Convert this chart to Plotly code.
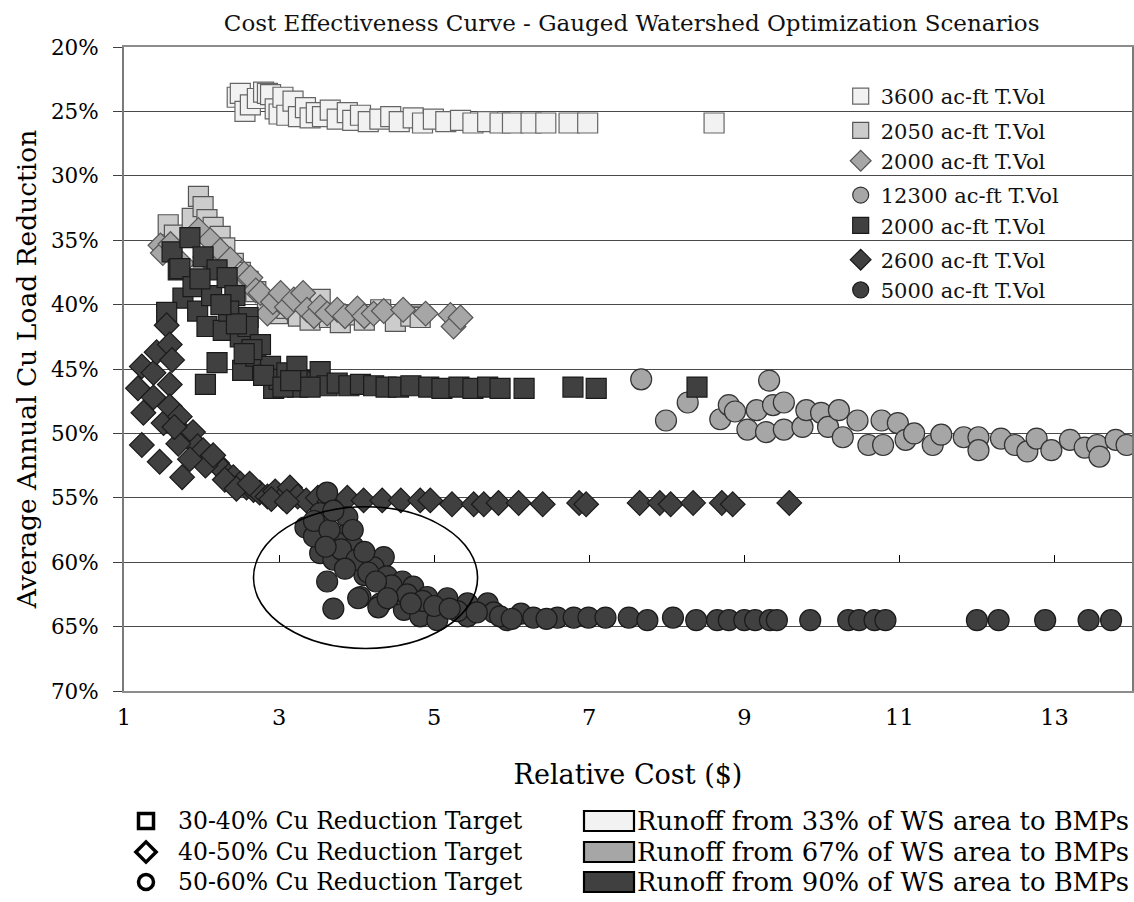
import plotly.graph_objects as go

# ---------------- data ----------------
# 33% of WS area -> 3600 ac-ft T.Vol (squares, 30-40% target)
a_x = [2.46, 2.50, 2.56, 2.63, 2.72, 2.80, 2.85, 2.89, 2.95, 3.00, 3.05, 3.10, 3.18, 3.25, 3.34, 3.40,
       3.48, 3.56, 3.66, 3.75, 3.88, 3.95, 4.05, 4.15, 4.30, 4.44, 4.55, 4.73, 4.85, 4.99, 5.15, 5.34,
       5.50, 5.69, 5.85, 6.01, 6.25, 6.44, 6.74, 6.98, 8.61]
a_y = [23.9, 23.6, 25.0, 24.5, 24.0, 23.5, 23.6, 23.7, 24.8, 25.2, 23.9, 25.3, 24.2, 25.4, 24.7, 25.5,
       25.1, 25.4, 24.9, 25.6, 25.1, 25.7, 25.3, 25.8, 25.6, 25.4, 25.8, 25.5, 25.9, 25.6, 25.8, 25.7,
       25.9, 25.8, 25.9, 25.9, 25.9, 25.9, 25.9, 25.9, 25.9]

# 67% of WS area -> 2050 ac-ft T.Vol (squares)
b_x = [1.57, 1.65, 1.88, 1.96, 2.02, 2.07, 2.15, 2.24, 2.30, 2.41, 2.50, 2.60, 2.70, 2.85, 2.98, 3.10,
       3.25, 3.40, 3.53, 3.65, 3.79, 3.95, 4.10, 4.31, 4.50, 4.70, 4.82]
b_y = [33.8, 34.6, 33.3, 31.6, 32.4, 33.4, 34.0, 34.7, 35.6, 36.8, 37.5, 38.2, 39.0, 39.8, 40.7, 40.3,
       40.9, 41.2, 39.6, 41.0, 41.4, 40.8, 41.2, 40.4, 41.3, 40.9, 41.0]

# 67% of WS area -> 2000 ac-ft T.Vol (diamonds)
c_x = [1.47, 1.50, 1.60, 1.75, 1.96, 2.05, 2.11, 2.20, 2.24, 2.30, 2.37, 2.45, 2.55, 2.63, 2.70, 2.76,
       2.85, 2.92, 3.02, 3.10, 3.19, 3.31, 3.36, 3.45, 3.53, 3.62, 3.75, 3.85, 4.01, 4.10, 4.22, 4.35,
       4.60, 4.89, 5.21, 5.25, 5.34]
c_y = [35.4, 36.0, 35.3, 36.8, 34.2, 36.3, 35.0, 37.0, 35.8, 37.5, 36.5, 38.2, 37.6, 37.9, 38.9, 39.1,
       40.7, 39.8, 39.1, 40.2, 39.6, 39.1, 40.4, 40.9, 40.2, 40.7, 40.4, 40.9, 40.3, 40.9, 40.7, 40.5,
       40.4, 40.7, 40.8, 41.7, 41.0]

# 67% of WS area -> 12300 ac-ft T.Vol (circles)
d_x = [7.67, 7.99, 8.27, 9.32, 8.69, 8.80, 8.88, 9.04, 9.16, 9.28, 9.37, 9.51, 9.51, 9.75, 9.80, 9.99,
       10.08, 10.22, 10.27, 10.46, 10.60, 10.77, 10.79, 10.98, 11.08, 11.19, 11.43, 11.54, 11.83, 12.02,
       12.02, 12.31, 12.49, 12.65, 12.77, 12.96, 13.20, 13.39, 13.55, 13.58, 13.79, 13.93]
d_y = [45.8, 49.0, 47.6, 45.9, 48.9, 47.8, 48.3, 49.7, 48.2, 49.9, 47.8, 47.6, 49.7, 49.5, 48.2, 48.4,
       49.5, 48.2, 50.3, 49.0, 50.9, 49.0, 50.9, 49.2, 50.5, 50.0, 50.9, 50.1, 50.3, 50.3,
       51.3, 50.4, 50.9, 51.4, 50.4, 51.3, 50.5, 51.1, 50.9, 51.8, 50.5, 50.9]

# 90% of WS area -> 2000 ac-ft T.Vol (squares)
e_x = [1.62, 1.70, 1.72, 1.76, 1.85, 1.89, 1.95, 2.02, 2.07, 2.13, 2.20, 2.20, 2.28, 2.33, 2.43, 2.50,
       2.53, 2.60, 2.60, 2.70, 2.76, 2.85, 2.89, 2.93, 3.00, 3.10, 3.23, 3.24, 3.35, 3.49, 3.53, 3.62,
       3.75, 3.90, 4.05, 4.22, 4.38, 4.54, 4.70, 4.93, 5.10, 5.32, 5.50, 5.69, 5.85, 6.16, 6.79, 7.09,
       8.39, 2.05, 1.55, 2.35, 2.45, 2.65, 2.80, 3.05, 3.40, 3.15, 2.55, 2.25, 1.98]
e_y = [35.9, 37.3, 37.2, 39.5, 34.8, 38.6, 40.5, 36.3, 41.7, 39.3, 37.3, 44.5, 42.0, 37.9, 39.3, 42.5,
       45.1, 41.0, 41.7, 44.0, 43.1, 45.5, 44.8, 46.5, 45.8, 45.3, 44.8, 46.4, 45.9, 46.0, 45.2, 46.3,
       46.1, 46.3, 46.2, 46.3, 46.4, 46.4, 46.3, 46.4, 46.5, 46.4, 46.5, 46.4, 46.5, 46.5, 46.4, 46.5,
       46.4, 46.2, 40.6, 40.5, 41.5, 43.5, 45.5, 46.4, 46.4, 45.9, 43.8, 40.0, 38.0]

# 90% of WS area -> 2600 ac-ft T.Vol (diamonds)
f_x = [1.18, 1.23, 1.25, 1.23, 1.38, 1.38, 1.42, 1.46, 1.51, 1.55, 1.59, 1.59, 1.59, 1.62, 1.72, 1.75,
       1.80, 1.89, 1.95, 2.02, 2.10, 2.20, 2.28, 2.35, 2.41, 2.50, 2.58, 2.67, 2.75, 2.85, 2.95, 3.05,
       3.14, 3.24, 3.35, 3.50, 3.65, 3.88, 4.09, 4.33, 4.57, 4.82, 4.95, 5.23, 5.51, 5.64, 5.83, 6.09,
       6.40, 6.87, 6.96, 7.65, 7.91, 8.05, 8.34, 8.71, 8.85, 9.58,
       2.05, 2.15, 2.30, 2.45, 2.62, 2.90, 3.10, 1.85, 1.70, 1.65]
f_y = [46.5, 44.8, 48.4, 50.9, 45.3, 47.2, 43.7, 52.2, 49.2, 41.6, 43.1, 46.2, 47.9, 44.3, 48.7, 53.4,
       50.2, 49.9, 51.0, 51.3, 52.0, 52.3, 52.9, 53.3, 53.4, 53.9, 54.2, 54.4, 54.6, 54.9, 54.5, 55.0,
       54.2, 54.9, 55.2, 55.0, 55.3, 55.0, 55.2, 55.2, 55.2, 55.2, 55.2, 55.5, 55.5, 55.5, 55.4, 55.4,
       55.5, 55.4, 55.5, 55.4, 55.4, 55.5, 55.4, 55.4, 55.5, 55.4,
       52.5, 51.7, 53.6, 54.3, 53.9, 55.1, 55.3, 52.0, 50.8, 49.5]

# 90% of WS area -> 5000 ac-ft T.Vol (circles)
g_x = [3.62, 3.34, 3.53, 3.57, 3.88, 3.86, 3.53, 3.75, 3.96, 3.70, 3.92, 4.35, 4.22, 3.62, 4.39, 4.59,
       4.05, 3.70, 4.31, 4.73, 4.91, 4.61, 4.82, 5.17, 5.43, 5.43, 5.69, 5.77, 6.12, 6.28, 6.59, 6.80,
       6.99, 7.21, 7.51, 7.75, 8.08, 8.38, 8.65, 8.80, 9.00, 9.14, 9.33, 9.42, 9.85, 10.34, 10.48, 10.68,
       10.82, 12.00, 12.28, 12.88, 13.44, 13.73, 4.10, 4.50, 5.04, 5.30, 5.94, 3.45, 4.02, 4.28,
       3.45, 3.65, 3.80, 4.00, 4.15, 4.45, 4.65, 4.85, 5.00, 5.20, 5.55, 5.85, 6.00, 6.45, 3.95, 4.25,
       3.70, 3.85, 4.10, 3.60, 4.40, 4.70]
g_y = [54.6, 57.3, 56.2, 57.8, 56.5, 57.9, 59.3, 58.5, 58.8, 59.8, 60.1, 59.6, 60.4, 61.5, 61.1, 61.5,
       62.7, 63.6, 63.2, 61.9, 62.7, 63.7, 64.2, 62.8, 63.2, 64.2, 63.2, 63.9, 64.0, 64.3, 64.3, 64.3,
       64.3, 64.3, 64.3, 64.5, 64.3, 64.5, 64.5, 64.5, 64.5, 64.5, 64.5, 64.5, 64.5, 64.5, 64.5, 64.5,
       64.5, 64.5, 64.5, 64.5, 64.5, 64.5, 61.0, 62.5, 64.5, 63.8, 64.5, 58.0, 62.8, 63.5,
       56.8, 57.5, 59.0, 59.8, 60.8, 61.8, 62.5, 63.0, 63.4, 63.6, 63.9, 64.2, 64.4, 64.4, 57.5, 61.5,
       56.0, 60.5, 59.2, 58.8, 62.8, 63.2]

series_names = ["3600 ac-ft T.Vol", "2050 ac-ft T.Vol", "2000 ac-ft T.Vol", "12300 ac-ft T.Vol",
                "2000 ac-ft T.Vol", "2600 ac-ft T.Vol", "5000 ac-ft T.Vol"]

x_ticks = [1, 3, 5, 7, 9, 11, 13]
y_ticks = [20, 25, 30, 35, 40, 45, 50, 55, 60, 65, 70]
y_tick_labels = [f"{v}%" for v in y_ticks]

target_labels = ["30-40% Cu Reduction Target", "40-50% Cu Reduction Target", "50-60% Cu Reduction Target"]
target_symbols = ["square", "diamond", "circle"]
runoff_labels = ["Runoff from 33% of WS area to BMPs", "Runoff from 67% of WS area to BMPs",
                 "Runoff from 90% of WS area to BMPs"]

# ---------------- styling / layout constants ----------------
FONT = "DejaVu Serif"
LIGHT, MIDL, MID, DARK = "#f2f2f2", "#cccccc", "#a6a6a6", "#404040"
runoff_colors = [LIGHT, MID, DARK]

W, H = 1134, 902
ML, MR, MT, MB = 124, 2, 47, 211
PW, PH = W - ML - MR, H - MT - MB


def px_x(px):  # page pixel -> paper x
    return (px - ML) / PW


def px_y(py):  # page pixel -> paper y
    return (H - MB - py) / PH


styles = [
    dict(symbol="square", color=LIGHT, line="#666666", group="g1"),
    dict(symbol="square", color=MIDL, line="#555555", group="g2"),
    dict(symbol="diamond", color=MID, line="#555555", group="g2"),
    dict(symbol="circle", color=MID, line="#333333", group="g3"),
    dict(symbol="square", color=DARK, line="#1a1a1a", group="g3"),
    dict(symbol="diamond", color=DARK, line="#1a1a1a", group="g4"),
    dict(symbol="circle", color=DARK, line="#1a1a1a", group="g4"),
]
sizes = [20, 20, 19, 21, 20, 19, 21]
data = [(a_x, a_y), (b_x, b_y), (c_x, c_y), (d_x, d_y), (e_x, e_y), (f_x, f_y), (g_x, g_y)]

fig = go.Figure()
for (xs, ys), name, st, sz in zip(data, series_names, styles, sizes):
    fig.add_trace(go.Scatter(
        x=xs, y=ys, mode="markers", name=name, legendgroup=st["group"],
        marker=dict(symbol=st["symbol"], size=sz, color=st["color"],
                    line=dict(color=st["line"], width=1.2)),
        hoverinfo="x+y",
    ))

# tick marks of the horizontal axis that crosses at 60 %
fig.add_trace(go.Scatter(x=[None], y=[None], xaxis="x2", showlegend=False, hoverinfo="skip"))

# ellipse highlighting the 5000 ac-ft transition
ELLIPSE = dict(x0=2.67, x1=5.56, y0=55.7, y1=66.7)
fig.add_shape(type="circle", xref="x", yref="y", **ELLIPSE,
              line=dict(color="black", width=1.6), layer="above")

# ---- key below the chart ----
ROWS_PX = [821, 852, 882]
SYM_X_PX, SYM_R_PX = 146, 7.5
for lab, sym, ry in zip(target_labels, target_symbols, ROWS_PX):
    cx, cy = px_x(SYM_X_PX), px_y(ry)
    dx, dy = SYM_R_PX / PW, SYM_R_PX / PH
    key_line = dict(color="black", width=3.5)
    if sym == "square":
        fig.add_shape(type="rect", xref="paper", yref="paper", x0=cx - dx, x1=cx + dx,
                      y0=cy - dy, y1=cy + dy, fillcolor="white", line=key_line)
    elif sym == "circle":
        fig.add_shape(type="circle", xref="paper", yref="paper", x0=cx - dx, x1=cx + dx,
                      y0=cy - dy, y1=cy + dy, fillcolor="white", line=key_line)
    else:
        ddx, ddy = 1.35 * dx, 1.35 * dy
        fig.add_shape(type="path", xref="paper", yref="paper", fillcolor="white", line=key_line,
                      path=f"M {cx - ddx} {cy} L {cx} {cy + ddy} L {cx + ddx} {cy} L {cx} {cy - ddy} Z")
    fig.add_annotation(x=px_x(176), y=cy, xref="paper", yref="paper", text=lab, showarrow=False,
                       xanchor="left", yanchor="middle", font=dict(family=FONT, size=23.5, color="black"))

for lab, col, ry in zip(runoff_labels, runoff_colors, ROWS_PX):
    cy = px_y(ry)
    fig.add_shape(type="rect", xref="paper", yref="paper", x0=px_x(584), x1=px_x(634),
                  y0=cy - 10 / PH, y1=cy + 10 / PH, fillcolor=col,
                  line=dict(color="black", width=2.2))
    fig.add_annotation(x=px_x(635), y=cy, xref="paper", yref="paper", text=lab, showarrow=False,
                       xanchor="left", yanchor="middle", font=dict(family=FONT, size=25.8, color="black"))

fig.update_layout(
    width=W, height=H,
    margin=dict(l=ML, r=MR, t=MT, b=MB),
    paper_bgcolor="white", plot_bgcolor="white",
    font=dict(family=FONT, color="black"),
    title=dict(text="Cost Effectiveness Curve - Gauged Watershed Optimization Scenarios",
               x=0.557, xanchor="center", y=0.975, yanchor="middle",
               font=dict(family=FONT, size=23, color="#111111")),
    xaxis=dict(range=[1, 14], tickvals=x_ticks, ticks="", showgrid=False, zeroline=False,
               showline=True, linecolor="#8c8c8c", linewidth=2, mirror=True, automargin=False,
               tickfont=dict(family=FONT, size=22.5), ticklabelstandoff=5,
               title=dict(text="Relative Cost ($)", font=dict(family=FONT, size=27), standoff=36)),
    xaxis2=dict(range=[1, 14], overlaying="x", anchor="free", position=0.2, side="bottom",
                tickvals=x_ticks, ticks="inside", ticklen=7, tickcolor="black", tickwidth=1,
                showticklabels=False, showgrid=False, showline=False, zeroline=False),
    yaxis=dict(range=[70, 20], tickvals=y_ticks, ticktext=y_tick_labels, ticks="outside",
               ticklen=9, tickcolor="#404040", showgrid=True, gridcolor="#4a4a4a", gridwidth=1.2,
               zeroline=False, showline=True, linecolor="#7a7a7a", linewidth=2, mirror=True,
               automargin=False,
               tickfont=dict(family=FONT, size=21.5), ticklabelstandoff=10,
               title=dict(text="Average Annual Cu Load Reduction", font=dict(family=FONT, size=26.5),
                          standoff=7)),
    legend=dict(x=0.711, y=0.955, xanchor="left", yanchor="top", bgcolor="rgba(0,0,0,0)",
                traceorder="grouped", tracegroupgap=4, itemsizing="trace",
                font=dict(family=FONT, size=21, color="#111111"), itemclick=False),
    showlegend=True,
)

fig.write_html("out.html", config={"displayModeBar": False},
               post_script="document.body.style.margin='0px';")
